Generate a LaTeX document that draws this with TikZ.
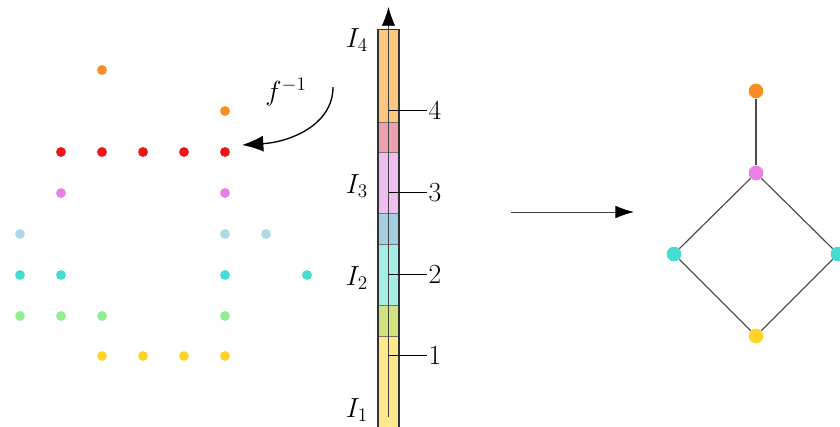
\documentclass[tikz,border=0pt]{standalone}
\usetikzlibrary{arrows.meta}
\definecolor{cOr}{HTML}{F98C24}
\definecolor{cRe}{HTML}{EE1515}
\definecolor{cVi}{HTML}{E880E8}
\definecolor{cLb}{HTML}{ADD8E6}
\definecolor{cTu}{HTML}{45DDD0}
\definecolor{cLg}{HTML}{90EE90}
\definecolor{cGo}{HTML}{FFD42A}
\definecolor{sOr}{HTML}{FDC782}
\definecolor{sPk}{HTML}{EFA0AE}
\definecolor{sVi}{HTML}{F0BDF0}
\definecolor{sLb}{HTML}{A3CFE0}
\definecolor{sTu}{HTML}{A4EEE6}
\definecolor{sYg}{HTML}{D2E27E}
\definecolor{sYe}{HTML}{FFE98B}
\tikzset{
  dot/.style={circle,inner sep=0pt,minimum size=7.4pt,fill=#1,draw=none},
  gdot/.style={circle,inner sep=0pt,minimum size=11pt,fill=#1,draw=none},
  seg/.style={fill=#1,draw=black!55,line width=0.5pt},
  tick/.style={line width=1.1pt,black},
  lbl/.style={font=\fontsize{19.5}{22}\selectfont,inner sep=1pt},
  gedge/.style={draw=black!70,line width=0.9pt},
  bigarrow/.style={-{Latex[length=14pt,width=9.5pt,color=black]},line width=0.7pt,black!75}
}
\begin{document}
\begin{tikzpicture}[x=0.75pt,y=-0.75pt]
\useasboundingbox (0,0) rectangle (840,426);
% grid dots
\foreach \x/\y/\c [count=\i] in {
 102/70/cOr, 225/111/cOr,
 61/152/cRe, 102/152/cRe, 143/152/cRe, 184/152/cRe, 225/152/cRe,
 61/193/cVi, 225/193/cVi,
 20/234/cLb, 225/234/cLb, 266/234/cLb,
 20/275/cTu, 61/275/cTu, 225/275/cTu, 307/275/cTu,
 20/316/cLg, 61/316/cLg, 102/316/cLg, 225/316/cLg,
 102/356/cGo, 143/356/cGo, 184/356/cGo, 225/356/cGo}
 \node[dot=\c] (p\i) at (\x,\y) {};
% bar segments
\draw[seg=sYe] (378,336.7) rectangle (399,430);
\draw[seg=sYg] (378,305.7) rectangle (399,336.7);
\draw[seg=sTu] (378,244) rectangle (399,305.7);
\draw[seg=sLb] (378,213.3) rectangle (399,244);
\draw[seg=sVi] (378,152.3) rectangle (399,213.3);
\draw[seg=sPk] (378,122) rectangle (399,152.3);
\draw[seg=sOr] (378,29.3) rectangle (399,122);
\draw[black!80,line width=1pt] (378,29.3) -- (378,430) (399,29.3) -- (399,430) (378,29.3) -- (399,29.3);
% axis
\coordinate (ab) at (388.5,417);
\coordinate (at) at (388.5,7);
\draw[black!75,line width=0.5pt] (ab) -- (388.5,28);
\draw[-{Latex[length=14pt,width=10pt,color=black]},line width=0.5pt,black!75] (388.5,28) -- (at);
% ticks
\foreach \y/\n in {110.7/4, 192.3/3, 274.3/2, 355.7/1}{
  \coordinate (t\n) at (388.5,\y);
  \node[lbl,anchor=west] (n\n) at (427,\y) {$\n$};
  \draw[tick] (t\n) -- (n\n.west);
}
% interval labels
\node[lbl] (I4) at (357,40) {$I_4$};
\node[lbl] (I3) at (357,186) {$I_3$};
\node[lbl] (I2) at (357,278) {$I_2$};
\node[lbl] (I1) at (357,410) {$I_1$};
% f^{-1}
\coordinate (fs) at (333,87);
\coordinate (fe) at (242,145);
\draw[-{Latex[length=16pt,width=12pt]},line width=1pt] (fs) .. controls (333,125) and (290,142) .. (fe);
\node[lbl] (finv) at (286,92) {$f^{-1}$};
% middle arrow
\coordinate (ms) at (511,212);
\coordinate (me) at (634,212);
\draw[bigarrow] (ms) -- (me);
% right graph
\node[gdot=cOr] (g5) at (756,91) {};
\node[gdot=cVi] (g4) at (756,173) {};
\node[gdot=cTu] (g2) at (674,254) {};
\node[gdot=cTu] (g3) at (838,254) {};
\node[gdot=cGo] (g1) at (756,336) {};
\draw[gedge] (g5) -- (g4);
\draw[gedge] (g4) -- (g2);
\draw[gedge] (g4) -- (g3);
\draw[gedge] (g2) -- (g1);
\draw[gedge] (g3) -- (g1);
\end{tikzpicture}
\end{document}
